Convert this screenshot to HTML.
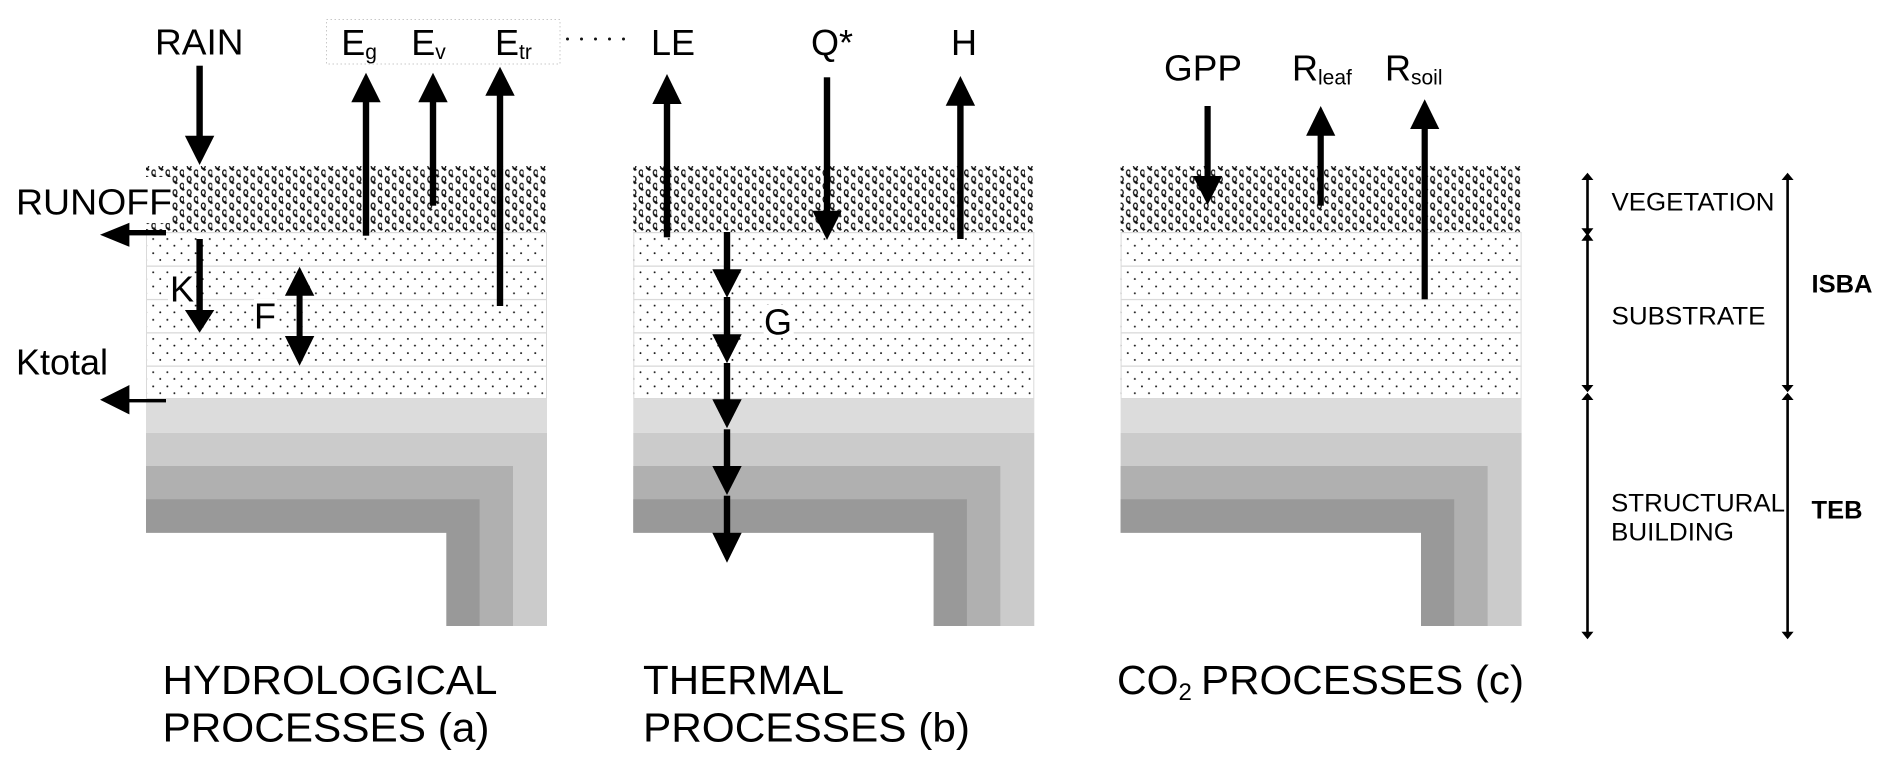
<!DOCTYPE html>
<html><head><meta charset="utf-8">
<style>
html,body{margin:0;padding:0;background:#fff;width:1892px;height:770px;overflow:hidden}
svg{display:block}
text{font-family:"Liberation Sans",sans-serif;fill:#000}
</style></head><body>
<svg xmlns="http://www.w3.org/2000/svg" width="1892" height="770" viewBox="0 0 1892 770">
<defs>
<pattern id="dots" patternUnits="userSpaceOnUse" x="0" y="232.7" width="14.15" height="33.3">
<circle cx="11.7" cy="6.3" r="0.95" fill="#111"/>
<circle cx="4.6" cy="13" r="0.95" fill="#111"/>
<circle cx="11.7" cy="20.5" r="0.95" fill="#111"/>
<circle cx="4.6" cy="27.3" r="0.95" fill="#111"/>
</pattern>
<pattern id="veg" patternUnits="userSpaceOnUse" x="0" y="166" width="14.15" height="13.3">
<g fill="none" stroke="#111">
<g stroke-width="1.3">
<ellipse cx="12.3" cy="6.7" rx="1.9" ry="2.7"/>
<ellipse cx="5.2" cy="13.2" rx="1.9" ry="2.7"/>
<ellipse cx="5.2" cy="-0.1" rx="1.9" ry="2.7"/>
<path d="M13 9.2l1.6 1.6M-1.15 9.2l1.6 1.6M6 2.6l1.6 1.6"/>
</g>
<g stroke-width="1.9">
<path d="M3.6 1.7l3.2 2.6"/>
<path d="M10.7 8.4l3.2 2.6"/>
<path d="M-3.45 8.4l3.2 2.6"/>
</g>
</g>
</pattern>
<g id="panel">
<rect x="146" y="166" width="401" height="66.7" fill="url(#veg)"/>
<rect x="146" y="232.7" width="401" height="166" fill="#fff"/>
<rect x="146" y="232.7" width="401" height="166" fill="url(#dots)"/>
<g fill="#fff">
<rect x="146" y="264.7" width="401" height="3"/>
<rect x="146" y="298" width="401" height="3"/>
<rect x="146" y="331.4" width="401" height="3"/>
<rect x="146" y="364.7" width="401" height="3"/>
</g>
<g fill="#dadada">
<rect x="146" y="232" width="401" height="1.2"/>
<rect x="146" y="265.5" width="401" height="1.3"/>
<rect x="146" y="298.9" width="401" height="1.3"/>
<rect x="146" y="332.2" width="401" height="1.3"/>
<rect x="146" y="365.5" width="401" height="1.3"/>
<rect x="146" y="398" width="401" height="1"/>
<rect x="146" y="232" width="1" height="166"/>
<rect x="546" y="232" width="1" height="166"/>
</g>
<rect x="146" y="398.7" width="401" height="34" fill="#dcdcdc"/>
<path d="M146 432.7H547V626H446.4V532.7H146Z" fill="#cbcbcb"/>
<path d="M146 466H513V626H446.4V532.7H146Z" fill="#b0b0b0"/>
<path d="M146 499.3H479.6V626H446.4V532.7H146Z" fill="#999"/>
</g>
</defs>

<use href="#panel"/>
<use href="#panel" transform="translate(487.3 0)"/>
<use href="#panel" transform="translate(974.6 0)"/>

<!-- white label patches -->
<rect x="145" y="177" width="27" height="46" fill="#fff"/>
<rect x="168" y="274" width="28" height="29" fill="#fff"/>
<rect x="254" y="299" width="23" height="32.5" fill="#fff"/>
<rect x="763.7" y="305" width="30" height="28.5" fill="#fff"/>

<!-- dotted box -->
<rect x="326.5" y="19.5" width="233.5" height="44.5" fill="none" stroke="#c8c8c8" stroke-width="1" stroke-dasharray="1.5 2.5"/>
<g fill="#111">
<circle cx="567.5" cy="39" r="1.5"/><circle cx="581.5" cy="39" r="1.5"/><circle cx="595.5" cy="39" r="1.5"/><circle cx="609.5" cy="39" r="1.5"/><circle cx="623.5" cy="39" r="1.5"/>
</g>

<!-- flux arrows -->
<g fill="#000">
<rect x="196.4" y="65.7" width="6.4" height="71"/><polygon points="184.9,135.7 214.3,135.7 199.6,165"/>
<rect x="362.8" y="101" width="6.4" height="134.7"/><polygon points="351.3,102.3 380.7,102.3 366,72.7"/>
<rect x="429.8" y="101" width="6.4" height="104.7"/><polygon points="418.3,102.3 447.7,102.3 433,72.7"/>
<rect x="496.8" y="94" width="6.4" height="212"/><polygon points="485.3,95.7 514.7,95.7 500,66.7"/>
<rect x="128" y="230" width="38" height="5.4"/><polygon points="129.4,222.8 129.4,246.8 100,234.8"/>
<rect x="128" y="399" width="38" height="3.4"/><polygon points="129.4,385 129.4,414.4 100,399.7"/>
<rect x="196.4" y="239" width="6.4" height="72"/><polygon points="184.9,310 214.3,310 199.6,332.7"/>
<rect x="296.6" y="294" width="6" height="43"/><polygon points="284.9,295.7 314.3,295.7 299.6,266.7"/><polygon points="284.9,336 314.3,336 299.6,365.7"/>
<rect x="663.8" y="103" width="6.4" height="134.3"/><polygon points="652.3,104 681.7,104 667,74"/>
<rect x="823.8" y="77.3" width="6.4" height="134"/><polygon points="812.3,210.7 841.7,210.7 827,240"/>
<rect x="957.2" y="104.7" width="6.4" height="134.3"/><polygon points="945.7,105.7 975.1,105.7 960.4,76"/>
<rect x="723.8" y="232" width="6.4" height="38"/><polygon points="712.3,269.3 741.7,269.3 727,297.7"/>
<rect x="723.8" y="297" width="6.4" height="38"/><polygon points="712.3,334.3 741.7,334.3 727,363.3"/>
<rect x="723.8" y="363" width="6.4" height="37"/><polygon points="712.3,399.3 741.7,399.3 727,428.3"/>
<rect x="723.8" y="429.3" width="6.4" height="37"/><polygon points="712.3,466 741.7,466 727,495"/>
<rect x="723.8" y="495.7" width="6.4" height="37.5"/><polygon points="712.3,532.7 741.7,532.7 727,562.7"/>
<rect x="1204.5" y="106" width="6.2" height="71"/><polygon points="1193,176 1222.2,176 1207.6,205"/>
<rect x="1317.6" y="134.7" width="6.2" height="71"/><polygon points="1306.1,135.7 1335.3,135.7 1320.7,106"/>
<rect x="1421.6" y="128" width="6.2" height="171.3"/><polygon points="1410.1,129 1439.3,129 1424.7,99.3"/>
<rect x="1586.2" y="178" width="2.6" height="52"/><polygon points="1581.4,180 1593.4,180 1587.5,172.7"/><polygon points="1581.4,228.3 1593.4,228.3 1587.5,236"/>
<rect x="1586.2" y="239" width="2.6" height="147"/><polygon points="1581.4,240.7 1593.4,240.7 1587.5,232.7"/><polygon points="1581.4,385 1593.4,385 1587.5,392.3"/>
<rect x="1586.2" y="399" width="2.6" height="234"/><polygon points="1581.4,400 1593.4,400 1587.5,392.7"/><polygon points="1581.4,631.7 1593.4,631.7 1587.5,639.3"/>
<rect x="1786.3" y="178" width="2.6" height="208"/><polygon points="1781.6,180 1793.6,180 1787.6,172.7"/><polygon points="1781.6,385 1793.6,385 1787.6,392.3"/>
<rect x="1786.3" y="399" width="2.6" height="234"/><polygon points="1781.6,400 1793.6,400 1787.6,392.7"/><polygon points="1781.6,631.7 1793.6,631.7 1787.6,639.3"/>
</g>

<!-- labels -->
<g font-size="36">
<text x="155" y="54.3" textLength="88.5" lengthAdjust="spacingAndGlyphs">RAIN</text>
<text x="341.2" y="55">E<tspan font-size="21" dy="4">g</tspan></text>
<text x="411.2" y="55">E<tspan font-size="21" dy="4">v</tspan></text>
<text x="495" y="55">E<tspan font-size="21" dy="4">tr</tspan></text>
<text x="651" y="55">LE</text>
<text x="811" y="55">Q*</text>
<text x="951" y="55">H</text>
<text x="1164" y="80.3" textLength="78" lengthAdjust="spacingAndGlyphs">GPP</text>
<text x="1292" y="80.3">R<tspan font-size="21" dy="4">leaf</tspan></text>
<text x="1385" y="80.3">R<tspan font-size="21" dy="4">soil</tspan></text>
<text x="16" y="214.3" textLength="156" lengthAdjust="spacingAndGlyphs">RUNOFF</text>
<text x="16" y="374.3">Ktotal</text>
<text x="170" y="301.7">K</text>
<text x="254" y="328.3">F</text>
<text x="764" y="334.3">G</text>
</g>
<g font-size="41">
<text x="162.5" y="694" textLength="335" lengthAdjust="spacingAndGlyphs">HYDROLOGICAL</text>
<text x="162.5" y="741.7" textLength="327" lengthAdjust="spacingAndGlyphs">PROCESSES (a)</text>
<text x="643" y="694" textLength="201" lengthAdjust="spacingAndGlyphs">THERMAL</text>
<text x="643" y="741.7" textLength="327" lengthAdjust="spacingAndGlyphs">PROCESSES (b)</text>
<text x="1117" y="694">CO<tspan font-size="24" dy="6">2</tspan></text>
<text x="1201" y="694" textLength="323" lengthAdjust="spacingAndGlyphs">PROCESSES (c)</text>
</g>
<g font-size="25">
<text x="1611.5" y="210.7" textLength="163" lengthAdjust="spacingAndGlyphs">VEGETATION</text>
<text x="1611.5" y="324.3" textLength="154" lengthAdjust="spacingAndGlyphs">SUBSTRATE</text>
<text x="1611" y="511.7" textLength="174" lengthAdjust="spacingAndGlyphs">STRUCTURAL</text>
<text x="1611" y="540.3" textLength="123" lengthAdjust="spacingAndGlyphs">BUILDING</text>
<text x="1811.5" y="292.3" font-weight="bold" textLength="61" lengthAdjust="spacingAndGlyphs">ISBA</text>
<text x="1811.5" y="518.3" font-weight="bold" textLength="51" lengthAdjust="spacingAndGlyphs">TEB</text>
</g>
</svg>
</body></html>
